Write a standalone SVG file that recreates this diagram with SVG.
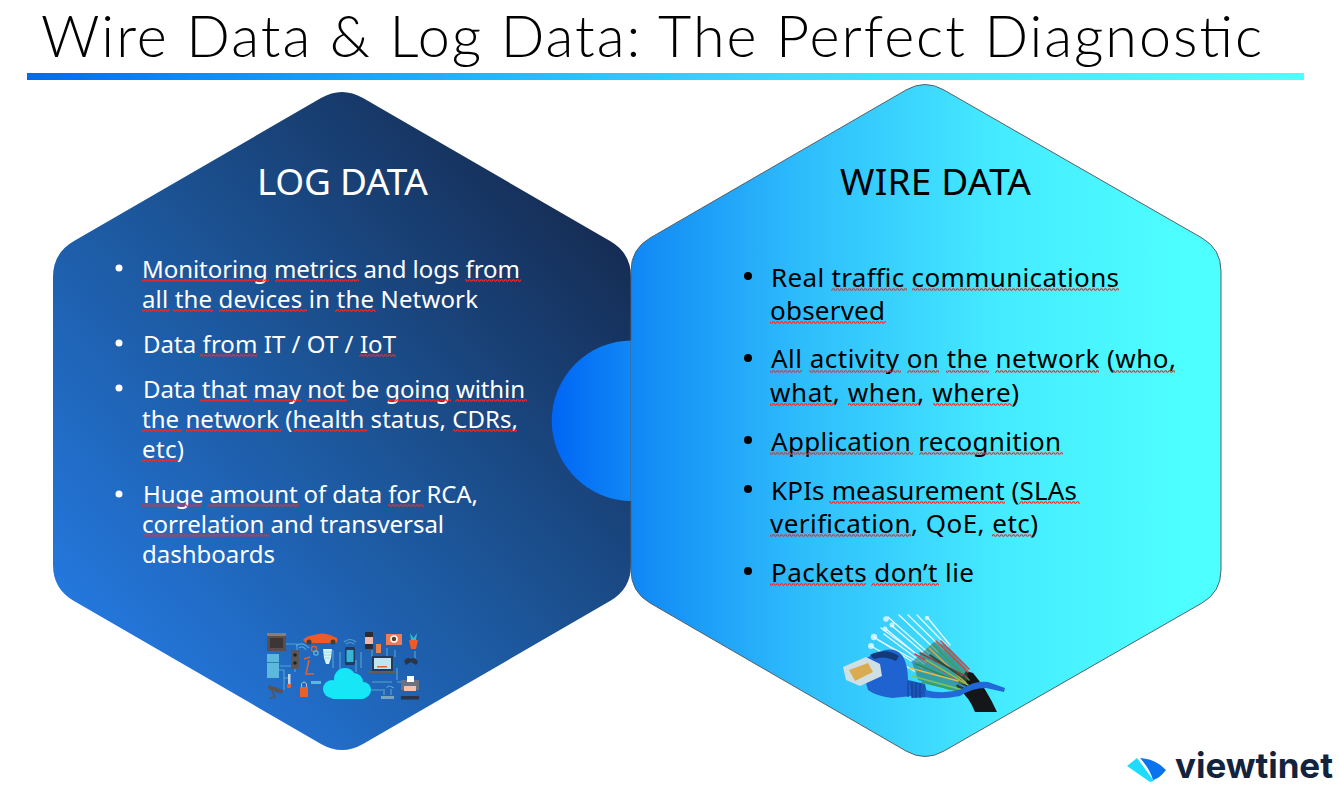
<svg xmlns="http://www.w3.org/2000/svg" width="1339" height="786" viewBox="0 0 1339 786">
<style>
text{font-family:"Noto Sans","Open Sans","Liberation Sans",sans-serif}
.title{font-size:57.5px;font-weight:300;fill:#000;font-family:"Lato","Noto Sans",sans-serif}
.hw{font-size:37px;fill:#fff}
.hb{font-size:37px;fill:#000}
.w{font-size:24px;fill:#fff}
.b{font-size:26px;fill:#000}
.logo{font-size:35px;font-weight:700;fill:#14233d;font-family:"Inter","Open Sans",sans-serif}
.sq{fill:url(#squig)}
.f{fill:none;stroke-width:1.6;stroke-linecap:round}
.wl{fill:none;stroke:#55a6cc;stroke-width:1.1}
</style>
<defs>
<linearGradient id="bar" x1="0" x2="1" y1="0" y2="0"><stop offset="0" stop-color="#0668ee"/><stop offset=".12" stop-color="#1088f2"/><stop offset=".33" stop-color="#22b0f8"/><stop offset=".6" stop-color="#3cdcff"/><stop offset="1" stop-color="#4dffff"/></linearGradient>
<linearGradient id="wire" gradientUnits="userSpaceOnUse" x1="552" y1="0" x2="1221" y2="0"><stop offset="0" stop-color="#0066f5"/><stop offset=".12" stop-color="#1088f5"/><stop offset=".37" stop-color="#2ebcfc"/><stop offset=".67" stop-color="#45ebff"/><stop offset=".95" stop-color="#4dffff"/></linearGradient>
<linearGradient id="log" gradientUnits="userSpaceOnUse" x1="90" y1="650" x2="600" y2="190"><stop offset="0" stop-color="#2479e0"/><stop offset=".5" stop-color="#1c5598"/><stop offset="1" stop-color="#152a50"/></linearGradient>
<pattern id="squig" patternUnits="userSpaceOnUse" width="4" height="3" x="0" y="0"><path d="M0 2.2 L1 .8 L2 .8 L3 2.2 L4 2.2" fill="none" stroke="#f02c2c" stroke-width="1.1"/></pattern>
</defs>

<g id="title">
<text class="title" x="41" y="57" textLength="1221" lengthAdjust="spacing">Wire Data &amp; Log Data: The Perfect Diagnostic</text>
<rect x="27" y="73" width="1277" height="7" fill="url(#bar)"/>
</g>

<g id="node-log">
<path fill="url(#log)" d="M321 98 Q342 86 363 98 L610 241 Q631 253 631 277 L631 565 Q631 589 610 601 L363 744 Q342 756 321 744 L74 601 Q53 589 53 565 L53 277 Q53 253 74 241 Z"/>
<text class="hw" x="257" y="195" textLength="171" lengthAdjust="spacing">LOG DATA</text>
<g fill="#fff">
<circle cx="119" cy="268" r="3.5"/><circle cx="119" cy="343" r="3.5"/><circle cx="119" cy="388" r="3.5"/><circle cx="119" cy="494" r="3.5"/>
</g>
<text class="w" x="142" y="278" textLength="378" lengthAdjust="spacing">Monitoring metrics and logs from</text>
<text class="w" x="142" y="308" textLength="336" lengthAdjust="spacing">all the devices in the Network</text>
<text class="w" x="143" y="353" textLength="253" lengthAdjust="spacing">Data from IT / OT / IoT</text>
<text class="w" x="143" y="398" textLength="382" lengthAdjust="spacing">Data that may not be going within</text>
<text class="w" x="142" y="428" textLength="376" lengthAdjust="spacing">the network (health status, CDRs,</text>
<text class="w" x="142" y="458" textLength="42" lengthAdjust="spacing">etc)</text>
<text class="w" x="143" y="503" textLength="335" lengthAdjust="spacing">Huge amount of data for RCA,</text>
<text class="w" x="142" y="533" textLength="302" lengthAdjust="spacing">correlation and transversal</text>
<text class="w" x="142" y="563" textLength="133" lengthAdjust="spacing">dashboards</text>
<g id="log-squiggles">
<g transform="translate(0,279)"><rect class="sq" x="142" width="127" height="3"/><rect class="sq" x="275" width="84" height="3"/><rect class="sq" x="465" width="56" height="3"/></g>
<g transform="translate(0,309)"><rect class="sq" x="142" width="28" height="3"/><rect class="sq" x="173" width="40" height="3"/><rect class="sq" x="219" width="88" height="3"/><rect class="sq" x="335" width="41" height="3"/></g>
<g transform="translate(0,354)"><rect class="sq" x="200" width="57" height="3"/><rect class="sq" x="359" width="37" height="3"/></g>
<g transform="translate(0,399)"><rect class="sq" x="200" width="49" height="3"/><rect class="sq" x="253" width="48" height="3"/><rect class="sq" x="307" width="40" height="3"/><rect class="sq" x="387" width="64" height="3"/><rect class="sq" x="455" width="72" height="3"/></g>
<g transform="translate(0,429)"><rect class="sq" x="142" width="40" height="3"/><rect class="sq" x="186" width="96" height="3"/><rect class="sq" x="294" width="73" height="3"/><rect class="sq" x="453" width="64" height="3"/></g>
<g transform="translate(0,459)"><rect class="sq" x="142" width="36" height="3"/></g>
<g transform="translate(0,504)"><rect class="sq" x="142" width="60" height="3"/><rect class="sq" x="207" width="92" height="3"/><rect class="sq" x="388" width="36" height="3"/></g>
<g transform="translate(0,534)"><rect class="sq" x="143" width="126" height="3"/></g>
</g>
<g id="iot-icon">
<path class="wl" d="M286 644 H297 V650 M279 670 H284 V690 M280 666 H291 M295 669 V672 M284 678 H290 M333 650 V668 M340 652 V669 M361 652 V668 M372 650 V657 M387 648 V657 H393 M395 650 V657 M415 651 V660 M356 660 V672 M372 682 H392 M397 668 V680 M401 682 H397 M383 690 H366"/>
<path class="wl" d="M299 648 Q303 645 306 650 M296 646 Q302 641 309 648 M346 644 Q350 641 354 644 M344 642 Q350 637 356 642 M383 664 Q386 661 389 664 M387 688 Q387 684 394 688"/>
<rect x="267" y="633" width="19" height="18" fill="#57504f"/><rect x="270" y="638" width="13" height="10" fill="#3c3636"/><rect x="267" y="633" width="19" height="3" fill="#8a7d78"/>
<rect x="267" y="654" width="12" height="24" fill="#5cb8dc"/><rect x="267" y="662" width="12" height="1" fill="#2f7fa8"/>
<path d="M303 640 Q306 636 314 635 Q322 632 330 635 L337 638 Q338 642 336 643 H306 Z" fill="#f05a28"/><circle cx="309" cy="642" r="2.5" fill="#4a3a35"/><circle cx="333" cy="642" r="2.5" fill="#4a3a35"/>
<rect x="291" y="650" width="8" height="19" fill="#5a5658"/><circle cx="295" cy="655" r="1.8" fill="#222"/><circle cx="295" cy="663" r="1.8" fill="#222"/>
<path d="M304 659 L310 657 M309 660 L306 674 H314" stroke="#e8602a" stroke-width="1.5" fill="none"/>
<circle cx="314" cy="649" r="2.6" fill="none" stroke="#e8602a" stroke-width="1.2"/><circle cx="316" cy="653" r="2.2" fill="none" stroke="#5cb8dc" stroke-width="1.2"/>
<path d="M323 649 H332 L331 658 L329 664 H326 L324 658 Z" fill="#d5f4fa"/><path d="M324 652 H331 M324 655 H331 M325 658 H330" stroke="#7fd0e4" stroke-width=".7"/>
<rect x="345" y="647" width="10" height="18" rx="1.500" fill="#223a5c"/><rect x="346.500" y="650" width="7" height="12" fill="#35b6d8"/>
<rect x="365" y="632" width="8" height="17" rx="1" fill="#2b2b30"/><rect x="365" y="637" width="8" height="7" fill="#f3b7a7"/>
<rect x="376" y="644" width="5" height="9" fill="#e8804a"/>
<rect x="386" y="634" width="16" height="11" fill="#ef7a55"/><circle cx="394" cy="639" r="3.8" fill="#fff"/><circle cx="394" cy="639" r="2.200" fill="#5a3a35"/>
<path d="M409 640 H418 L416 649 H411 Z" fill="#f05a28"/><path d="M410 633 L413.500 638 L417 633 L416 640 H411 Z" fill="#39b8c8"/>
<rect x="372" y="656" width="21" height="15" fill="#233a5c"/><rect x="374" y="658" width="17" height="11" fill="#bfe6f0"/><rect x="369" y="671" width="27" height="2" fill="#6a5a55"/><rect x="377" y="666" width="10" height="1.500" fill="#e8602a"/>
<path d="M404 661 Q407 656 411 659 Q415 656 418 662 L416 665 L411 662 L406 665 Z" fill="#2b3448"/>
<rect x="401" y="680" width="18" height="10" fill="#6b7280"/><rect x="407" y="676" width="7" height="6" fill="#fff"/><rect x="404" y="686" width="12" height="5" fill="#f5c1ae"/>
<rect x="401" y="696" width="18" height="3.500" fill="#2b3448"/>
<rect x="381" y="696" width="13" height="3" fill="#7aa4bc"/><path d="M384 695 V689 M391 695 V689" stroke="#8fb4c8" stroke-width=".8"/>
<rect x="288" y="674" width="2.500" height="12" fill="#c9d4da"/><circle cx="289" cy="686" r="2.200" fill="#e8602a"/>
<path d="M269 685 L283 690 L282 694 L268 689 Z" fill="#5a5254"/><path d="M272 691 L275 697 L270 698" stroke="#5a5254" stroke-width="1.500" fill="none"/>
<rect x="300" y="687" width="8" height="10" fill="#e8602a"/><path d="M301.500 687 V684 Q304 680 306.500 684 V687" stroke="#b8c4cc" fill="none"/>
<rect x="311" y="681" width="10" height="3" fill="#5cb8dc"/>
<g fill="#17e6f7"><circle cx="332" cy="689" r="9"/><circle cx="345" cy="679" r="11"/><circle cx="354" cy="682" r="9"/><circle cx="363" cy="690" r="8"/><rect x="330" y="686" width="36" height="13" rx="4"/></g>
</g>
</g>

<g id="node-wire">
<path d="M632 340.500 A80 80 0 0 0 632 501 Z" fill="url(#wire)"/>
<path fill="url(#wire)" stroke="#55606a" stroke-width="1" d="M906 90 Q925 79 944 90 L1202 238 Q1221 249 1221 271 L1221 570 Q1221 592 1202 603 L944 751 Q925 762 906 751 L650 603 Q631 592 631 570 L631 271 Q631 249 650 238 Z"/>
<path d="M631 340.500 H633 V501 H631 Z" fill="url(#wire)"/>
<text class="hb" x="840" y="195" textLength="191" lengthAdjust="spacing">WIRE DATA</text>
<g fill="#000">
<circle cx="748" cy="276" r="4"/><circle cx="748" cy="358" r="4"/><circle cx="748" cy="440" r="4"/><circle cx="748" cy="489" r="4"/><circle cx="748" cy="571" r="4"/>
</g>
<text class="b" x="771" y="287" textLength="348" lengthAdjust="spacing">Real traffic communications</text>
<text class="b" x="770" y="320" textLength="115" lengthAdjust="spacing">observed</text>
<text class="b" x="771" y="368" textLength="405" lengthAdjust="spacing">All activity on the network (who,</text>
<text class="b" x="770" y="402" textLength="249" lengthAdjust="spacing">what, when, where)</text>
<text class="b" x="771" y="451" textLength="290" lengthAdjust="spacing">Application recognition</text>
<text class="b" x="771" y="500" textLength="306" lengthAdjust="spacing">KPIs measurement (SLAs</text>
<text class="b" x="770" y="533" textLength="268" lengthAdjust="spacing">verification, QoE, etc)</text>
<text class="b" x="771" y="582" textLength="203" lengthAdjust="spacing">Packets don’t lie</text>
<g id="wire-squiggles">
<g transform="translate(0,288)"><rect class="sq" x="831" width="76" height="3"/><rect class="sq" x="912" width="207" height="3"/></g>
<g transform="translate(0,321)"><rect class="sq" x="770" width="116" height="3"/></g>
<g transform="translate(0,370)"><rect class="sq" x="770" width="32" height="3"/><rect class="sq" x="809" width="92" height="3"/><rect class="sq" x="907" width="32" height="3"/><rect class="sq" x="946" width="43" height="3"/><rect class="sq" x="995" width="104" height="3"/><rect class="sq" x="1113" width="62" height="3"/></g>
<g transform="translate(0,403)"><rect class="sq" x="770" width="65" height="3"/><rect class="sq" x="848" width="72" height="3"/><rect class="sq" x="933" width="79" height="3"/></g>
<g transform="translate(0,452)"><rect class="sq" x="770" width="143" height="3"/><rect class="sq" x="919" width="144" height="3"/></g>
<g transform="translate(0,501)"><rect class="sq" x="829" width="176" height="3"/><rect class="sq" x="1019" width="61" height="3"/></g>
<g transform="translate(0,534)"><rect class="sq" x="770" width="141" height="3"/><rect class="sq" x="992" width="40" height="3"/></g>
<g transform="translate(0,583)"><rect class="sq" x="770" width="96" height="3"/><rect class="sq" x="871" width="68" height="3"/></g>
</g>
<g id="cable-icon">
<path d="M966 671 L973 673 Q986 688 997 712 L975 712 Q970 698 956 686 Z" fill="#15161a"/>
<g stroke="#f0fbff" stroke-linecap="round" fill="none" stroke-width="1.400" opacity=".95">
<path d="M888 617 L932 656"/><path d="M899 615 L938 652"/><path d="M908 615 L944 650"/><path d="M917 615 L948 647"/><path d="M927 617 L950 645"/><path d="M891 625 L932 660"/><path d="M886 629 L926 662"/><path d="M884 634 L924 664"/><path d="M874 637 L922 668"/><path d="M871 646 L916 672"/><path d="M881 628 L922 658"/><path d="M878 640 L918 662"/>
</g>
<g fill="#f2fbff" opacity=".75"><circle cx="886" cy="619" r="2.800"/><circle cx="927" cy="618" r="2.200"/><circle cx="885" cy="629" r="2.500"/><circle cx="874" cy="637" r="3.200"/><circle cx="871" cy="646" r="3"/><circle cx="892" cy="625" r="2.500"/></g>
<path d="M912 662 L934 642 L945 645 L968 670 L965 690 L950 690 L918 680 Z" fill="#2f6a58" opacity=".55"/>
<path class="f" stroke="#d6493b" d="M936 641 L968 672"/><path class="f" stroke="#3f9f55" d="M933 645 L969 680"/><path class="f" stroke="#e0a53a" d="M929 648 L966 683"/>
<path class="f" stroke="#c9434f" d="M915 654 L963 683"/><path class="f" stroke="#3c8fd8" d="M912 662 L967 688"/><path class="f" stroke="#2e8a4a" d="M916 664 L961 683"/>
<path class="f" stroke="#7ac65a" d="M912 676 L963 690"/><path class="f" stroke="#e4bb44" d="M910 668 L958 681"/><path class="f" stroke="#8b3c46" d="M920 653 L967 677"/><path class="f" stroke="#3f9f55" d="M922 682 L958 691"/><path class="f" stroke="#c9434f" d="M941 641 L969 669"/><path class="f" stroke="#7ac65a" d="M926 660 L968 685"/><path class="f" stroke="#1f4f3a" d="M930 655 L966 680"/>
<path d="M866 658 L880 652 Q893 646 902 655 Q908 664 908 680 L912 696 L892 698 Q876 696 868 690 L864 676 Z" fill="#1e63cf"/>
<path d="M908 680 L925 684 L928 697 L912 698 Z" fill="#1a56b8"/>
<path d="M908 681 V697 M912 682 V698 M916 683 V698 M920 683 V698" stroke="#123f8f" stroke-width="1"/>
<path d="M843 667 L866 657 L880 664 L882 676 L860 686 L846 680 Z" fill="#cfe0e4"/>
<path d="M849 670 L868 663 L873 672 L855 681 Z" fill="#dbab52"/>
<path d="M925 690 Q945 695 962 689 Q975 680 988 682 L1005 688 L1004 692 L986 688 Q972 688 960 696 Q940 700 925 697 Z" fill="#2169d8"/>
<path d="M870 655 Q885 647 899 656 L896 661 Q884 655 874 659 Z" fill="#123a78"/>
</g>
</g>

<g id="logo">
<path d="M1127 766 L1137 758 L1154 781 L1150 782 Z" fill="#1fdcff"/>
<path d="M1140 758 Q1156 759 1166 770 Q1160 778 1153 780 Q1150 769 1140 758 Z" fill="#0a73ee"/>
<text class="logo" x="1175" y="778" textLength="158" lengthAdjust="spacing">viewtinet</text>
</g>
</svg>
